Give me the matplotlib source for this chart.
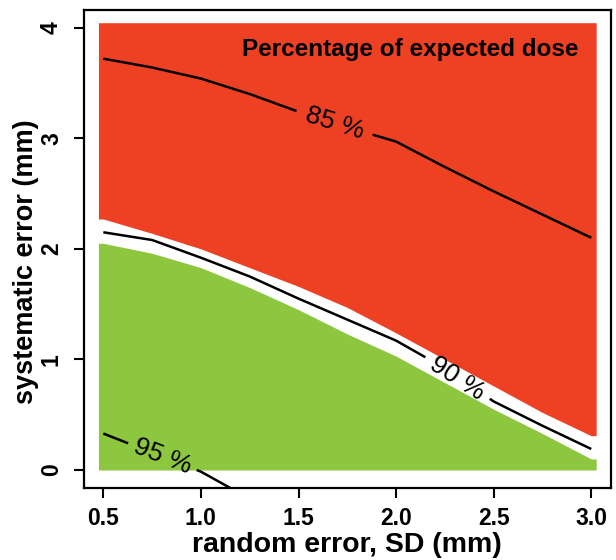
import numpy as np
import matplotlib
matplotlib.use("Agg")
import matplotlib.pyplot as plt

# ---- data ----
random_sd = [0.5, 0.75, 1.0, 1.25, 1.5, 1.75, 2.0, 2.25, 2.5, 2.75, 3.0]
# contour lines (systematic error at which dose reaches given percentage)
line_85 = [3.72, 3.64, 3.54, 3.40, 3.24, 3.10, 2.97, 2.74, 2.52, 2.31, 2.10]
line_90 = [2.15, 2.08, 1.92, 1.75, 1.55, 1.36, 1.17, 0.92, 0.62, 0.40, 0.19]
line_95_x = [0.5, 0.75, 1.0, 1.25]
line_95 = [0.33, 0.156, -0.015, -0.26]
# edges of the coloured regions
red_lower = [2.27, 2.14, 2.00, 1.83, 1.66, 1.47, 1.24, 1.00, 0.76, 0.52, 0.31]
green_upper = [2.05, 1.96, 1.83, 1.65, 1.45, 1.23, 1.03, 0.79, 0.55, 0.33, 0.10]
# contour label text and the x-range of the gap left in the line for it
labels = ["85 %", "90 %", "95 %"]
label_gaps = [(1.49, 1.88), (2.15, 2.48), (0.627, 0.978)]

x_ticks = [0.5, 1.0, 1.5, 2.0, 2.5, 3.0]
y_ticks = [0, 1, 2, 3, 4]
title_text = "Percentage of expected dose"
xlabel = "random error, SD (mm)"
ylabel = "systematic error (mm)"

RED = "#EE4023"
GREEN = "#8DC63F"
FONT = "Liberation Sans"

fig = plt.figure(figsize=(6.16, 5.6), dpi=100)
ax = fig.add_axes([83.8 / 616, 1 - 487.7 / 560, (610.8 - 83.8) / 616, (487.7 - 10.0) / 560])
ax.set_xlim(0.4, 3.1)
ax.set_ylim(-0.16, 4.16)

# coloured regions (raster cells extend half a cell past the grid)
half = 0.025
xs = np.r_[random_sd[0] - half, random_sd, random_sd[-1] + half]
rl = np.r_[red_lower[0], red_lower, red_lower[-1]]
gu = np.r_[green_upper[0], green_upper, green_upper[-1]]
ax.fill_between(xs, rl, 4.045, color=RED, linewidth=0, zorder=1)
ax.fill_between(xs, 0, gu, color=GREEN, linewidth=0, zorder=1)

def draw_contour(x, y, gap, text):
    x = np.asarray(x, float)
    y = np.asarray(y, float)
    g0, g1 = gap
    y0 = np.interp(g0, x, y)
    y1 = np.interp(g1, x, y)
    m0 = x < g0
    m1 = x > g1
    ax.plot(np.r_[x[m0], g0], np.r_[y[m0], y0], color="black", lw=1.8, zorder=3,
            solid_capstyle="butt", solid_joinstyle="round")
    ax.plot(np.r_[g1, x[m1]], np.r_[y1, y[m1]], color="black", lw=1.8, zorder=3,
            solid_capstyle="butt", solid_joinstyle="round")
    p0 = ax.transData.transform((g0, y0))
    p1 = ax.transData.transform((g1, y1))
    ang = np.degrees(np.arctan2(p1[1] - p0[1], p1[0] - p0[0]))
    ax.text((g0 + g1) / 2, (y0 + y1) / 2, text, rotation=ang, rotation_mode="anchor",
            ha="center", va="center", fontsize=19, family=FONT, zorder=4)

draw_contour(random_sd, line_85, label_gaps[0], labels[0])
draw_contour(random_sd, line_90, label_gaps[1], labels[1])
draw_contour(line_95_x, line_95, label_gaps[2], labels[2])

ax.text(2.935, 3.745, title_text, ha="right", va="baseline", fontsize=17.5,
        fontweight="bold", family=FONT, zorder=5)

ax.set_xticks(x_ticks)
ax.set_xticklabels([f"{v:.1f}" for v in x_ticks])
ax.set_yticks(y_ticks)
ax.set_yticklabels([str(v) for v in y_ticks], rotation=90, va="center")
for lab in ax.get_xticklabels() + ax.get_yticklabels():
    lab.set_fontfamily(FONT)
    lab.set_fontweight("bold")
    lab.set_fontsize(16.5)
ax.tick_params(axis="both", direction="out", length=7, width=1.5, color="black")
ax.tick_params(axis="x", pad=7)
ax.tick_params(axis="y", pad=8)
for s in ax.spines.values():
    s.set_linewidth(1.6)

ax.set_xlabel(xlabel, fontsize=20.5, fontweight="bold", family=FONT, labelpad=1)
ax.set_ylabel(ylabel, fontsize=19.5, fontweight="bold", family=FONT)
ax.yaxis.set_label_coords((39 - 83.8) / 527.0, (487.7 - 262) / 477.7)

fig.savefig("out.png", dpi=100)
